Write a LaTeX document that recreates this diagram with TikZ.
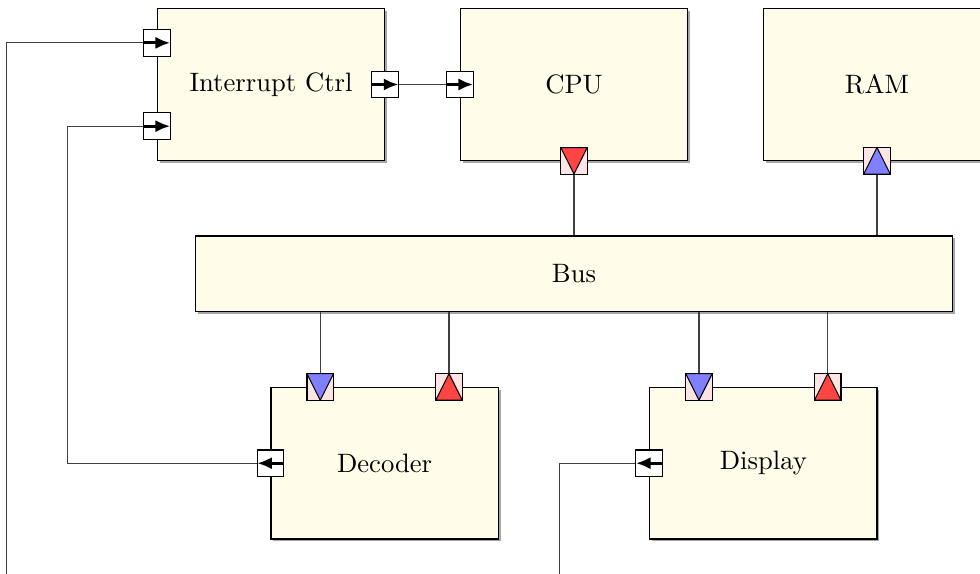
\documentclass[tikz,border=0pt]{standalone}
\usepackage{tikz}
\usetikzlibrary{arrows.meta, shadows}
\definecolor{blockcol}{HTML}{FFFCE9}
\definecolor{portcol}{HTML}{FFE4E4}
\definecolor{rdcol}{HTML}{FF4444}
\definecolor{wrcol}{HTML}{8080FF}

\begin{document}
\begin{tikzpicture}[
  >=Latex,
  block/.style={draw, fill=blockcol, minimum width=3cm, minimum height=2cm,
                drop shadow={shadow xshift=0.9pt, shadow yshift=-0.9pt,
                             fill=black!35, opacity=1}},
  bus/.style={block, minimum width=10cm, minimum height=1cm},
  portbox/.style={draw, fill=white, minimum size=0.35cm, inner sep=0pt},
  inright/.style={portbox, path picture={
      \draw[line width=1.1pt, -{Latex[length=5.5pt, width=4.6pt]}]
        (path picture bounding box.west) -- (path picture bounding box.east);}},
  inleft/.style={portbox, path picture={
      \draw[line width=1.1pt, -{Latex[length=5.5pt, width=4.6pt]}]
        (path picture bounding box.east) -- (path picture bounding box.west);}},
  trdown/.style={portbox, fill=portcol, path picture={
      \filldraw[fill=#1] (path picture bounding box.north west)
        -- (path picture bounding box.north east)
        -- (path picture bounding box.south) -- cycle;}},
  trup/.style={portbox, fill=portcol, path picture={
      \filldraw[fill=#1] (path picture bounding box.south west)
        -- (path picture bounding box.south east)
        -- (path picture bounding box.north) -- cycle;}},
  conn/.style={draw=black!75}
]

%% -- visible window --------------------------------------------------------
\useasboundingbox (-3.578,1.1155) rectangle (9.36,-6.462);
\clip (-3.578,1.1155) rectangle (9.36,-6.462);

%% -- Row 0 : controller, CPU, memory ----------------------------------------
\node[block] (irq) at (0,0)  {Interrupt Ctrl};
\node[block] (cpu) at (4,0)  {CPU};
\node[block] (ram) at (8,0)  {RAM};

%% -- Row 1 : bus -------------------------------------------------------------
\node[bus] (bus) at (4,-2.5) {Bus};

%% -- Row 2 : devices ---------------------------------------------------------
\node[block] (dec)  at (1.5,-5) {Decoder};
\node[block] (disp) at (6.5,-5) {Display};

%% -- Ports -------------------------------------------------------------------
\node[inright] (irqin1) at (irq.west) [yshift=0.55cm]  {};
\node[inright] (irqin2) at (irq.west) [yshift=-0.55cm] {};
\node[inright] (irqout) at (irq.east) {};
\node[inright] (cpuin)  at (cpu.west) {};

\node[trdown=rdcol] (cpubus) at (cpu.south) {};
\node[trup=wrcol]   (rambus) at (ram.south) {};

\node[trdown=wrcol] (decbusA)  at (dec.north)  [xshift=-0.85cm] {};
\node[trup=rdcol]   (decbusB)  at (dec.north)  [xshift=0.85cm]  {};
\node[trdown=wrcol] (dispbusA) at (disp.north) [xshift=-0.85cm] {};
\node[trup=rdcol]   (dispbusB) at (disp.north) [xshift=0.85cm]  {};

\node[inleft] (decout)  at (dec.west)  {};
\node[inleft] (dispout) at (disp.west) {};

%% -- Bus connections ---------------------------------------------------------
\foreach \p in {cpubus, rambus}
  \draw[conn] (\p.south) -- (\p.south |- bus.north);
\foreach \p in {decbusA, decbusB, dispbusA, dispbusB}
  \draw[conn] (\p.north) -- (\p.north |- bus.south);

%% -- Interrupt lines ---------------------------------------------------------
\draw[conn] (irqout.east) -- (cpuin.west);
\draw[conn] (decout.west) -| ([xshift=-1cm]irqin2.west) -- (irqin2.west);
\draw[conn] (dispout.west) -- ++(-1,0) -- ++(0,-2)
            -| ([xshift=-1.8cm]irqin1.west) -- (irqin1.west);

\end{tikzpicture}
\end{document}
